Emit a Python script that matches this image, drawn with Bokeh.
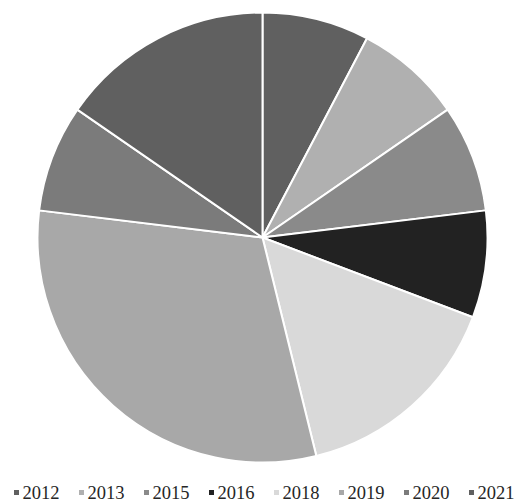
import math
from bokeh.plotting import figure
from bokeh.models import Range1d, ColumnDataSource
from bokeh.core.properties import value
from bokeh.embed import file_html
from bokeh.resources import INLINE

years = ["2012", "2013", "2015", "2016", "2018", "2019", "2020", "2021"]
counts = [1, 1, 1, 1, 2, 4, 1, 2]
colors = ["#606060", "#b0b0b0", "#8a8a8a", "#222222", "#d9d9d9", "#a8a8a8", "#7b7b7b", "#606060"]

W, H = 515, 502
p = figure(width=W, height=H, output_backend="svg", toolbar_location=None,
           x_range=Range1d(0, W), y_range=Range1d(0, H), min_border=0)
p.axis.visible = False
p.grid.visible = False
p.outline_line_color = None
p.background_fill_color = "white"

total = sum(counts)
starts, ends = [], []
cum = 0
for c in counts:
    starts.append(math.pi / 2 - 2 * math.pi * cum / total)
    cum += c
    ends.append(math.pi / 2 - 2 * math.pi * cum / total)

src = ColumnDataSource(dict(start=starts, end=ends, color=colors, year=years))
cx, cy, r = 262, H - 237, 225
p.wedge(x=cx, y=cy, radius=r, start_angle="start", end_angle="end", direction="clock",
        fill_color="color", line_color="white", line_width=2, source=src)

# legend
x0, step = 16, 65
mx = [x0 + i * step for i in range(len(years))]
tx = [m + 6 for m in mx]
ly = H - 492
lsrc = ColumnDataSource(dict(mx=mx, tx=tx, y=[ly] * len(years), color=colors, year=years))
p.scatter(x="mx", y="y", marker="square", size=5, fill_color="color", line_color=None, source=lsrc)
p.text(x="tx", y="y", text="year", text_font=value("Liberation Serif"), text_font_size="18.5px",
       text_baseline="middle", text_align="left", text_color="#262626", source=lsrc)

open("out.html", "w").write(file_html(p, INLINE))
